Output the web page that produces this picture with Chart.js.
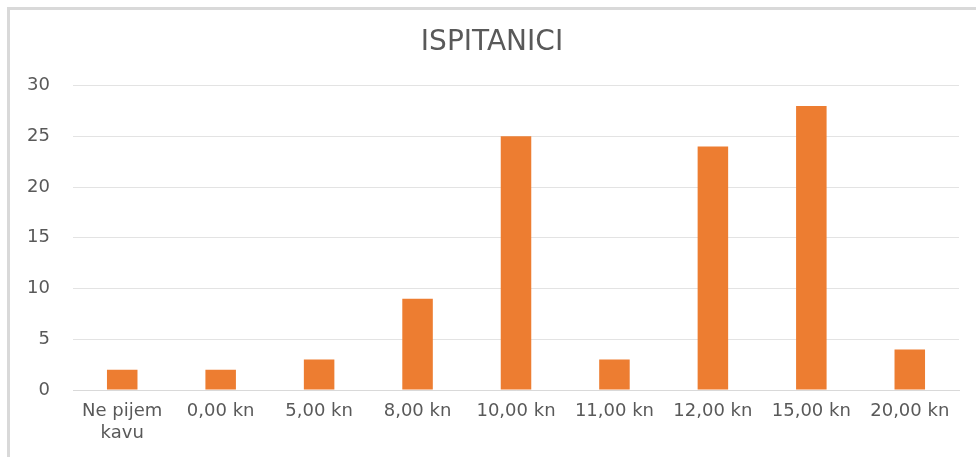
<!DOCTYPE html>
<html>
<head>
<meta charset="utf-8">
<script src="https://cdn.jsdelivr.net/npm/chart.js@4/dist/chart.umd.min.js"></script>
<style>
  html, body { margin: 0; padding: 0; background: #ffffff; }
  #wrap { position: relative; width: 976px; height: 457px; }
  canvas { display: block; }
</style>
</head>
<body>
<div id="wrap"><canvas id="c" width="976" height="457"></canvas></div>
<script>
const chartTitle = "ISPITANICI";
const categories = [["Ne pijem", "kavu"], "0,00 kn", "5,00 kn", "8,00 kn", "10,00 kn", "11,00 kn", "12,00 kn", "15,00 kn", "20,00 kn"];
const respondents = [2, 2, 3, 9, 25, 3, 24, 28, 4];
const yTicks = [0, 5, 10, 15, 20, 25, 30];

const framePlugin = {
  id: 'frame',
  beforeDraw(chart) {
    const ctx = chart.ctx;
    ctx.save();
    ctx.fillStyle = '#ffffff';
    ctx.fillRect(0, 0, chart.width, chart.height);
    ctx.strokeStyle = '#d9d9d9';
    ctx.lineWidth = 3;
    ctx.beginPath();
    ctx.moveTo(8.5, chart.height);
    ctx.lineTo(8.5, 8.5);
    ctx.lineTo(chart.width, 8.5);
    ctx.stroke();
    ctx.restore();
  }
};

new Chart(document.getElementById('c'), {
  type: 'bar',
  data: {
    labels: categories,
    datasets: [{
      label: chartTitle,
      data: respondents,
      backgroundColor: '#ED7D31',
      borderWidth: 0,
      barPercentage: 0.31,
      categoryPercentage: 1.0
    }]
  },
  options: {
    responsive: false,
    animation: false,
    devicePixelRatio: 1,
    layout: { padding: { left: 25, right: 17, top: 0, bottom: 0 } },
    plugins: {
      legend: { display: false },
      tooltip: { enabled: false },
      title: {
        display: true,
        text: chartTitle,
        color: '#595959',
        font: { family: 'DejaVu Sans', size: 28, weight: 'normal' },
        padding: { top: 26, bottom: 26 }
      }
    },
    scales: {
      x: {
        grid: { display: false, drawTicks: false },
        border: { display: true, color: '#d9d9d9', width: 1 },
        ticks: {
          color: '#595959',
          font: { family: 'DejaVu Sans', size: 18 },
          padding: 11,
          maxRotation: 0,
          autoSkip: false
        },
        afterFit(scale) { scale.height = 67; }
      },
      y: {
        min: 0,
        max: 30,
        afterBuildTicks(scale) { scale.ticks = yTicks.map(v => ({ value: v })); },
        grid: { color: '#e3e3e3', drawTicks: false, lineWidth: 1 },
        border: { display: false },
        ticks: {
          color: '#595959',
          font: { family: 'DejaVu Sans', size: 18 },
          padding: 23
        },
        afterFit(scale) { scale.width = 48; }
      }
    }
  },
  plugins: [framePlugin]
});
</script>
</body>
</html>
